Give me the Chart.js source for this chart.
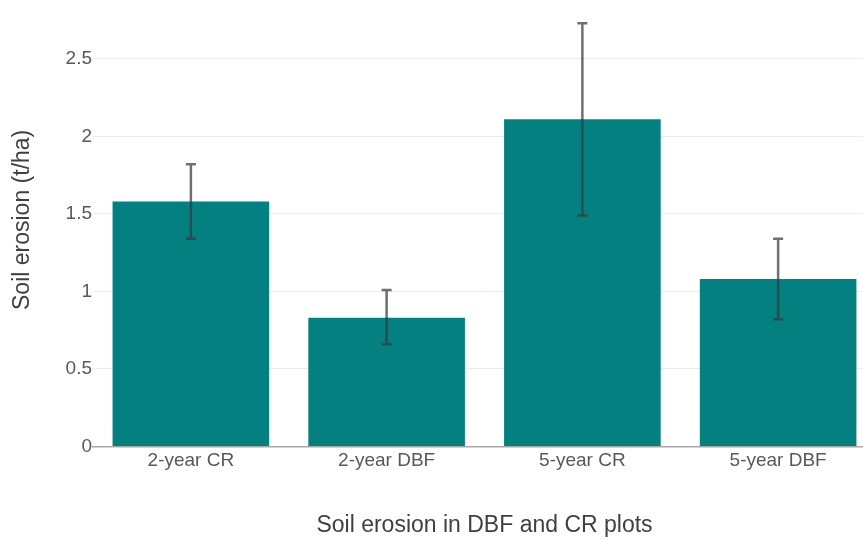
<!DOCTYPE html>
<html>
<head>
<meta charset="utf-8">
<script src="https://cdn.jsdelivr.net/npm/chart.js@4.4.0/dist/chart.umd.min.js"></script>
<style>
  html, body { margin: 0; padding: 0; background: #fff; overflow: hidden; }
  #wrap { width: 880px; height: 537px; }
</style>
</head>
<body>
<div id="wrap"><canvas id="chart"></canvas></div>
<script>
const categories = ['2-year CR', '2-year DBF', '5-year CR', '5-year DBF'];
const erosion = [1.58, 0.83, 2.11, 1.08];
const errLow = [1.34, 0.66, 1.49, 0.82];
const errHigh = [1.82, 1.01, 2.73, 1.34];
const yTicks = [0, 0.5, 1, 1.5, 2, 2.5];

// whiskers drawn on top of the bars
const errorBars = {
    id: 'errorBars',
    afterDatasetsDraw(chart) {
        const ctx = chart.ctx;
        const y = chart.scales.y;
        const meta = chart.getDatasetMeta(0);
        ctx.save();
        ctx.strokeStyle = 'rgba(55, 55, 55, 0.72)';
        ctx.lineWidth = 2.5;
        meta.data.forEach((bar, i) => {
            const top = y.getPixelForValue(errHigh[i]);
            const bottom = y.getPixelForValue(errLow[i]);
            ctx.beginPath();
            ctx.moveTo(bar.x, top);
            ctx.lineTo(bar.x, bottom);
            ctx.moveTo(bar.x - 5, top);
            ctx.lineTo(bar.x + 5, top);
            ctx.moveTo(bar.x - 5, bottom);
            ctx.lineTo(bar.x + 5, bottom);
            ctx.stroke();
        });
        ctx.restore();
    }
};

const chart = new Chart(document.getElementById('chart'), {
    type: 'bar',
    data: {
        labels: categories,
        datasets: [
            {
                label: 'Soil erosion',
                data: erosion,
                backgroundColor: '#048080',
                borderWidth: 0,
                barPercentage: 0.8,
                categoryPercentage: 1
            }
        ]
    },
    plugins: [errorBars],
    options: {
        responsive: true,
        maintainAspectRatio: false,
        animation: false,
        layout: {
            padding: { left: 0, right: 4, top: 5, bottom: 0 }
        },
        scales: {
            x: {
                grid: {
                    drawOnChartArea: false,
                    drawTicks: false
                },
                border: {
                    display: true,
                    color: '#a8a8a8',
                    width: 1.5
                },
                ticks: {
                    padding: 3,
                    color: '#595959',
                    font: { family: 'Liberation Sans, Arial', size: 19 }
                },
                title: {
                    display: true,
                    text: 'Soil erosion in DBF and CR plots',
                    color: '#404040',
                    padding: { top: 0, bottom: 0 },
                    font: { family: 'Liberation Sans, Arial', size: 23, lineHeight: 1 }
                },
                afterFit: axis => { axis.height = 90.5; }
            },
            y: {
                min: 0,
                max: 2.8,
                grid: {
                    color: '#ececec',
                    lineWidth: 1,
                    drawTicks: false
                },
                border: { display: false },
                afterBuildTicks: axis => {
                    axis.ticks = yTicks.map(v => ({ value: v }));
                },
                ticks: {
                    padding: 1,
                    color: '#595959',
                    font: { family: 'Liberation Sans, Arial', size: 19 },
                    callback: value => String(value)
                },
                title: {
                    display: true,
                    // leading spaces nudge the rotated title up a little
                    text: '   Soil erosion (t/ha)',
                    color: '#404040',
                    padding: { top: 11, bottom: 0 },
                    font: { family: 'Liberation Sans, Arial', size: 23, lineHeight: 1 }
                },
                afterFit: axis => { axis.width = 93; }
            }
        },
        plugins: {
            legend: { display: false },
            tooltip: { enabled: false }
        }
    }
});
</script>
</body>
</html>
